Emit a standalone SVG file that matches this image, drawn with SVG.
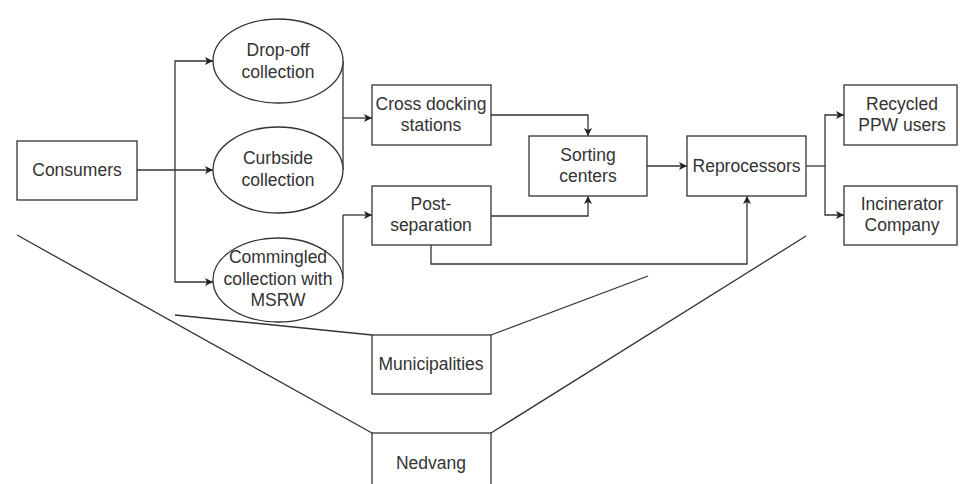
<svg xmlns="http://www.w3.org/2000/svg" width="960" height="484" viewBox="0 0 960 484">
<defs>
<marker id="arr" viewBox="0 0 10 10" refX="10" refY="5" markerWidth="8" markerHeight="8" markerUnits="userSpaceOnUse" orient="auto">
<path d="M0,0 L10,5 L0,10 L2.5,5 Z" fill="#222"/>
</marker>
</defs>
<style>
.n{fill:#fff;stroke:#333;stroke-width:1.3}
.t{font-family:"Liberation Sans",Arial,sans-serif;font-size:17.5px;fill:#333;text-anchor:middle}
.c{fill:none;stroke:#333;stroke-width:1.3}
.a{marker-end:url(#arr)}
</style>
<rect width="960" height="484" fill="#fff"/>
<g id="connectors">
<path class="c" d="M137,170 H175"/>
<path class="c a" d="M175,170 H213"/>
<path class="c a" d="M175,170 V61 H213"/>
<path class="c a" d="M175,170 V282 H213"/>
<path class="c" d="M343,61 V170"/>
<path class="c a" d="M343,118 H372"/>
<path class="c" d="M343,279 V215"/>
<path class="c a" d="M343,215 H372"/>
<path class="c a" d="M491,115 H588 V136"/>
<path class="c a" d="M491,216 H588 V196"/>
<path class="c a" d="M431,245 V264 H747 V196"/>
<path class="c a" d="M647,166 H687"/>
<path class="c" d="M806,166 H825"/>
<path class="c a" d="M825,166 V115 H844"/>
<path class="c a" d="M825,166 V215 H844"/>
<path class="c" d="M17,235 L372,433"/>
<path class="c" d="M175,315 L372,335"/>
<path class="c" d="M491,335 L648,276"/>
<path class="c" d="M491,433 L806,236"/>
</g>
<g id="consumers"><rect class="n" x="17" y="141" width="120" height="59"/><text class="t" x="77" y="176">Consumers</text></g>
<g id="dropoff"><ellipse class="n" cx="278" cy="61" rx="65" ry="42"/><text class="t" x="278" y="56">Drop-off</text><text class="t" x="278" y="78">collection</text></g>
<g id="curbside"><ellipse class="n" cx="278" cy="170" rx="65" ry="43"/><text class="t" x="278" y="164">Curbside</text><text class="t" x="278" y="186">collection</text></g>
<g id="commingled"><ellipse class="n" cx="278" cy="280" rx="65" ry="42"/><text class="t" x="278" y="263">Commingled</text><text class="t" x="278" y="285">collection with</text><text class="t" x="278" y="306">MSRW</text></g>
<g id="crossdocking"><rect class="n" x="372" y="85" width="119" height="60"/><text class="t" x="431" y="110">Cross docking</text><text class="t" x="431" y="131">stations</text></g>
<g id="postseparation"><rect class="n" x="372" y="186" width="119" height="59"/><text class="t" x="431" y="210">Post-</text><text class="t" x="431" y="231">separation</text></g>
<g id="sorting"><rect class="n" x="529" y="136" width="118" height="60"/><text class="t" x="588" y="161">Sorting</text><text class="t" x="588" y="182">centers</text></g>
<g id="reprocessors"><rect class="n" x="687" y="136" width="119" height="60"/><text class="t" x="746.5" y="172">Reprocessors</text></g>
<g id="recycled"><rect class="n" x="844" y="85" width="113" height="60"/><text class="t" x="902" y="110">Recycled</text><text class="t" x="902" y="131">PPW users</text></g>
<g id="incinerator"><rect class="n" x="844" y="186" width="113" height="59"/><text class="t" x="902" y="210">Incinerator</text><text class="t" x="902" y="231">Company</text></g>
<g id="municipalities"><rect class="n" x="372" y="335" width="119" height="59"/><text class="t" x="431" y="370">Municipalities</text></g>
<g id="nedvang"><rect class="n" x="372" y="433" width="119" height="60"/><text class="t" x="431" y="469">Nedvang</text></g>
</svg>
